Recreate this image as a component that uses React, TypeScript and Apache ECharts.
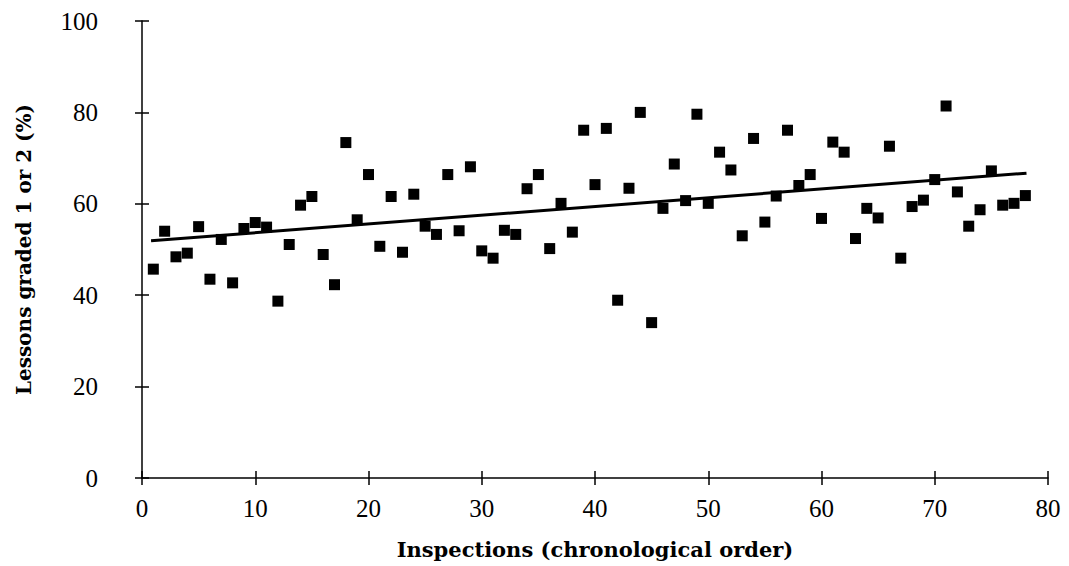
import React, { useEffect, useRef } from "react";
import * as echarts from "echarts";

const inspections: number[] = Array.from({ length: 78 }, (_, i) => i + 1);
const lessonsPct: number[] = [
  45.7, 54.0, 48.4, 49.2, 55.0, 43.5, 52.2, 42.7, 54.6, 55.9,
  54.9, 38.7, 51.1, 59.7, 61.6, 48.9, 42.3, 73.4, 56.5, 66.4,
  50.7, 61.6, 49.4, 62.1, 55.1, 53.3, 66.4, 54.1, 68.1, 49.7,
  48.1, 54.2, 53.3, 63.3, 66.4, 50.2, 60.1, 53.8, 76.1, 64.2,
  76.5, 38.9, 63.4, 80.0, 34.0, 59.0, 68.7, 60.7, 79.6, 60.1,
  71.3, 67.4, 53.0, 74.3, 56.0, 61.7, 76.1, 64.0, 66.4, 56.8,
  73.5, 71.3, 52.4, 59.0, 56.9, 72.6, 48.1, 59.4, 60.8, 65.3,
  81.4, 62.6, 55.1, 58.7, 67.2, 59.7, 60.1, 61.8,
];
const trendX: number[] = [0.8, 78.1];
const trendY: number[] = [51.9, 66.7];
const xTicks: number[] = [0, 10, 20, 30, 40, 50, 60, 70, 80];
const yTicks: number[] = [0, 20, 40, 60, 80, 100];

const FONT = "'Liberation Serif', 'Times New Roman', serif";
const TITLE_FONT = "'DejaVu Serif', serif";

export default function App() {
  const ref = useRef<HTMLDivElement>(null);
  useEffect(() => {
    if (!ref.current) return;
    const chart = echarts.init(ref.current, null, { renderer: "svg" });
    const lineStyle = { color: "#000", width: 1.5 };
    const baseX = {
      type: "value" as const,
      min: xTicks[0],
      max: xTicks[xTicks.length - 1],
      interval: 10,
      splitLine: { show: false },
    };
    const baseY = {
      type: "value" as const,
      min: yTicks[0],
      max: yTicks[yTicks.length - 1],
      interval: 20,
      splitLine: { show: false },
    };
    chart.setOption({
      animation: false,
      backgroundColor: "#fff",
      grid: { left: 142, right: 21, top: 21, bottom: 88, containLabel: false },
      xAxis: [
        {
          ...baseX,
          name: "Inspections (chronological order)",
          nameLocation: "middle",
          nameGap: 61,
          nameTextStyle: { fontFamily: TITLE_FONT, fontSize: 21, fontWeight: "bold", color: "#000" },
          axisLine: { show: true, onZero: false, lineStyle },
          axisTick: { show: true, inside: false, length: 7, lineStyle },
          axisLabel: { fontFamily: FONT, fontSize: 25, color: "#000", margin: 18 },
        },
        {
          ...baseX,
          position: "bottom",
          axisLine: { show: false },
          axisTick: { show: true, inside: true, length: 7, lineStyle },
          axisLabel: { show: false },
        },
      ],
      yAxis: [
        {
          ...baseY,
          name: "Lessons graded 1 or 2 (%)",
          nameLocation: "middle",
          nameGap: 108,
          nameRotate: 90,
          nameTextStyle: { fontFamily: TITLE_FONT, fontSize: 20, fontWeight: "bold", color: "#000" },
          axisLine: { show: true, onZero: false, lineStyle },
          axisTick: { show: true, inside: false, length: 7, lineStyle },
          axisLabel: { fontFamily: FONT, fontSize: 25, color: "#000", margin: 44 },
        },
        {
          ...baseY,
          position: "left",
          axisLine: { show: false },
          axisTick: { show: true, inside: true, length: 7, lineStyle },
          axisLabel: { show: false },
        },
      ],
      series: [
        {
          type: "scatter",
          symbol: "rect",
          symbolSize: 11,
          itemStyle: { color: "#000", opacity: 1 },
          data: inspections.map((x, i) => [x, lessonsPct[i]]),
          z: 3,
        },
        {
          type: "line",
          showSymbol: false,
          symbol: "none",
          lineStyle: { color: "#000", width: 3 },
          data: trendX.map((x, i) => [x, trendY[i]]),
          z: 4,
        },
      ],
    });
    return () => chart.dispose();
  }, []);
  return <div ref={ref} style={{ width: 1069, height: 566, position: "absolute", left: 0, top: 0 }} />;
}
